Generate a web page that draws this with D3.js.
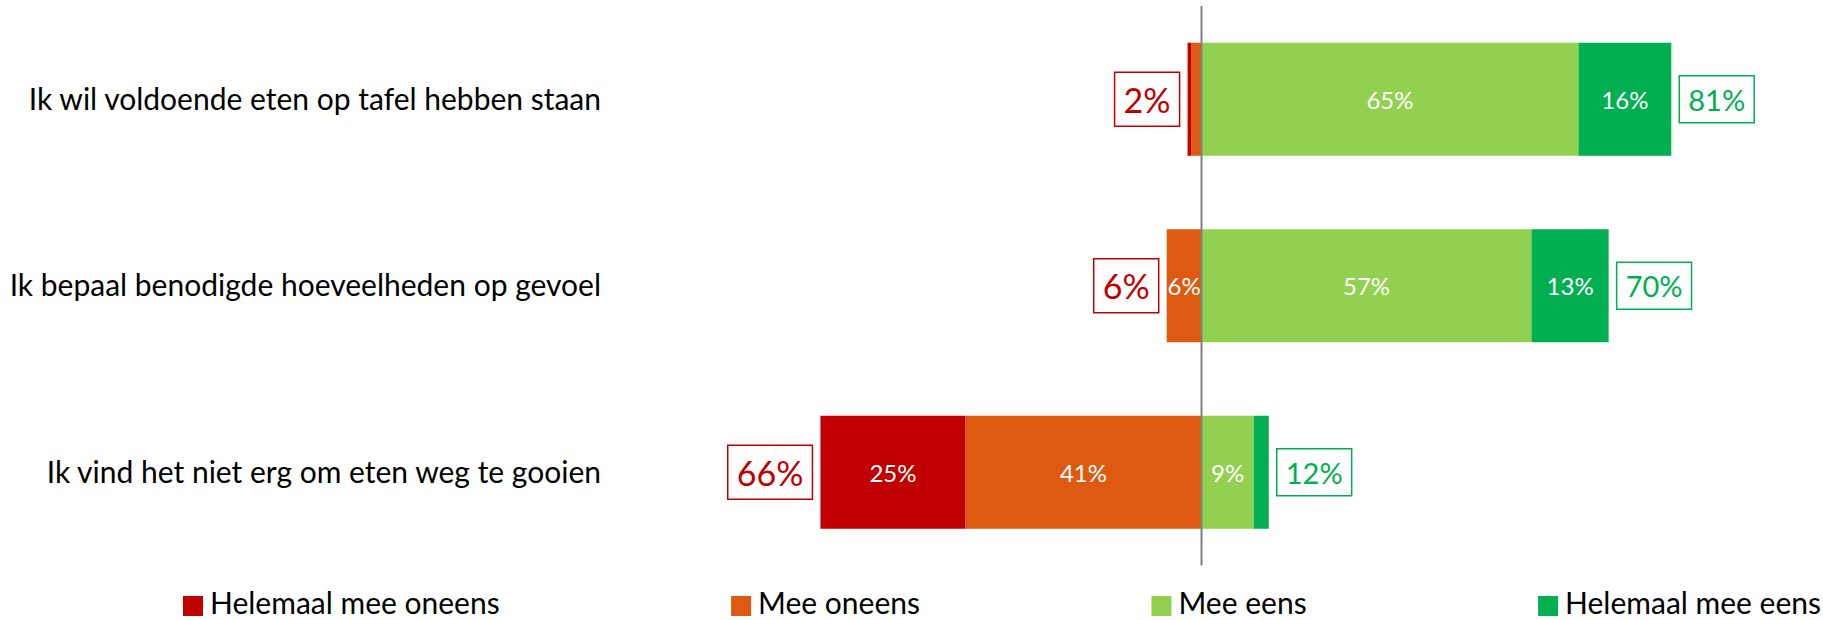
<!DOCTYPE html>
<html>
<head>
<meta charset="utf-8">
<script src="https://cdn.jsdelivr.net/npm/d3@7"></script>
<style>
  html, body { margin: 0; padding: 0; background: #ffffff; }
  svg { display: block; font-family: Lato, "Open Sans", sans-serif; }
</style>
</head>
<body>
<svg id="chart" width="1823" height="620"></svg>
<script>
// Statements (top to bottom)
const categories = [
  "Ik wil voldoende eten op tafel hebben staan",
  "Ik bepaal benodigde hoeveelheden op gevoel",
  "Ik vind het niet erg om eten weg te gooien"
];

// Answer shares per statement, in percent
const helemaalMeeOneens = [0.6, 0.0, 25.0];
const meeOneens         = [1.8, 6.0, 40.7];
const meeEens           = [65.0, 56.9, 9.0];
const helemaalMeeEens   = [16.0, 13.3, 2.6];

const seriesKeys   = ["helemaalMeeOneens", "meeOneens", "meeEens", "helemaalMeeEens"];
const seriesLabels = ["Helemaal mee oneens", "Mee oneens", "Mee eens", "Helemaal mee eens"];
const seriesColors = ["#C00000", "#DD5A10", "#92D050", "#00B050"];

const disagreeColor = "#C00000";
const agreeColor = "#00B050";

// Rows for the diverging stack: disagreement goes left of zero
const table = categories.map((c, i) => ({
  category: c,
  helemaalMeeOneens: -helemaalMeeOneens[i],
  meeOneens: -meeOneens[i],
  meeEens: meeEens[i],
  helemaalMeeEens: helemaalMeeEens[i]
}));

const svg = d3.select("#chart");

const x = d3.scaleLinear().domain([-70, 100]).range([795.5, 1781.5]);
const y = d3.scaleBand()
  .domain(categories)
  .range([6, 565.5])
  .paddingInner(0.394)
  .paddingOuter(0.197);

// Stack order: segments closest to zero first
const stack = d3.stack()
  .keys(["meeOneens", "helemaalMeeOneens", "meeEens", "helemaalMeeEens"])
  .offset(d3.stackOffsetDiverging);
const stacked = stack(table);

const colorOf = k => seriesColors[seriesKeys.indexOf(k)];

const layers = svg.append("g").selectAll("g")
  .data(stacked)
  .join("g")
  .attr("fill", d => colorOf(d.key));

layers.selectAll("rect")
  .data(d => d.map(p => ({ key: d.key, p })))
  .join("rect")
  .attr("x", d => x(Math.min(d.p[0], d.p[1])))
  .attr("y", d => y(d.p.data.category))
  .attr("width", d => Math.abs(x(d.p[1]) - x(d.p[0])))
  .attr("height", y.bandwidth());

// Segment value labels (only where the segment is wide enough)
layers.selectAll("text")
  .data(d => d.map(p => ({ key: d.key, p })).filter(d => Math.abs(d.p[1] - d.p[0]) >= 5))
  .join("text")
  .attr("x", d => x((d.p[0] + d.p[1]) / 2))
  .attr("y", d => y(d.p.data.category) + y.bandwidth() / 2)
  .attr("text-anchor", "middle")
  .attr("dominant-baseline", "central")
  .attr("fill", "#ffffff")
  .attr("font-size", 24)
  .text(d => Math.round(Math.abs(d.p[1] - d.p[0])) + "%");

// Zero line
svg.append("line")
  .attr("x1", x(0)).attr("x2", x(0))
  .attr("y1", y.range()[0]).attr("y2", y.range()[1])
  .attr("stroke", "#808080")
  .attr("stroke-width", 2);

// Category labels
const axis = d3.axisLeft(y).tickSize(0).tickPadding(0);
const axisG = svg.append("g")
  .attr("transform", "translate(601,0)")
  .call(axis);
axisG.select(".domain").remove();
axisG.selectAll("text")
  .attr("font-size", 30)
  .attr("font-family", "Lato, 'Open Sans', sans-serif")
  .attr("fill", "#000000")
  .attr("dy", "0.35em");

// Boxed totals on both sides
const boxGap = 8, boxPad = 9;
function boxedLabel(g, value, cx, cy, anchorRight, color, size, boxH) {
  const t = g.append("text")
    .attr("y", cy)
    .attr("dominant-baseline", "central")
    .attr("fill", color)
    .attr("font-size", size)
    .text(Math.round(value) + "%");
  const w = t.node().getComputedTextLength() + boxPad * 2;
  const left = anchorRight ? cx - boxGap - w : cx + boxGap;
  t.attr("x", left + w / 2).attr("text-anchor", "middle");
  g.insert("rect", "text")
    .attr("x", left).attr("y", cy - boxH / 2)
    .attr("width", w).attr("height", boxH)
    .attr("fill", "#ffffff")
    .attr("stroke", color)
    .attr("stroke-width", 1.5);
}

const totals = svg.append("g");
table.forEach((row, i) => {
  const neg = helemaalMeeOneens[i] + meeOneens[i];
  const pos = meeEens[i] + helemaalMeeEens[i];
  const cy = y(row.category) + y.bandwidth() / 2;
  boxedLabel(totals.append("g"), neg, x(-neg), cy, true, disagreeColor, 34, 54);
  boxedLabel(totals.append("g"), pos, x(pos), cy, false, agreeColor, 29, 47);
});

// Legend laid out across the bottom, evenly spaced between items
const legendBase = 614, legendStart = 183, legendEnd = 1821, sw = 20, swGap = 7;
const legend = svg.append("g");
const items = seriesLabels.map((label, i) => {
  const g = legend.append("g");
  g.append("rect")
    .attr("y", legendBase - 18)
    .attr("width", sw).attr("height", sw)
    .attr("fill", seriesColors[i]);
  const t = g.append("text")
    .attr("x", sw + swGap)
    .attr("y", legendBase)
    .attr("font-size", 30)
    .attr("fill", "#000000")
    .text(label);
  return { g, w: sw + swGap + t.node().getComputedTextLength() };
});
const spare = (legendEnd - legendStart - d3.sum(items, d => d.w)) / (items.length - 1);
let cursor = legendStart;
items.forEach(it => {
  it.g.attr("transform", `translate(${cursor},0)`);
  cursor += it.w + spare;
});
</script>
</body>
</html>
